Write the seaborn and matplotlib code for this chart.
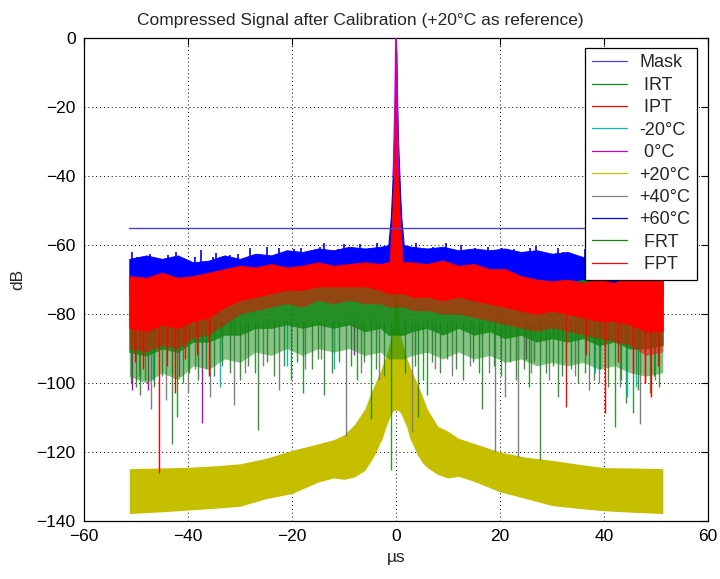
import matplotlib
matplotlib.use("Agg")
import matplotlib.pyplot as plt
from matplotlib.lines import Line2D
import seaborn as sns
import pandas as pd

sns.set_style("white")
plt.rcParams['font.family'] = ['Liberation Sans', 'DejaVu Sans']

# ---------------- data ----------------
# time grid (us) for the envelopes of the dense noise floors
t_grid = [-51.3, -48, -45, -42, -39, -36, -33, -30, -27, -24, -21, -18, -15, -12, -9, -6, -3, -1.5,
          1.5, 3, 6, 9, 12, 15, 18, 21, 24, 27, 30, 33, 36, 39, 42, 45, 48, 51.3]

# +60C (blue) band
blue_top = [-64, -63, -64, -63, -65, -64.5, -63, -64, -62.5, -63, -61.5, -62, -61, -61.5, -60.5, -61, -60.5, -60,
            -60, -60.5, -61, -60.5, -61.5, -61, -61.5, -61, -62, -61.5, -62.5, -62, -63.5, -62.5, -64, -63, -64.5, -64]
blue_low = [-75, -75, -74, -75, -74, -73, -72, -71, -71, -71, -70, -70, -70, -70, -70, -70, -70, -70,
            -70, -70, -70, -70, -71, -71, -72, -72, -73, -73, -74, -74, -74, -75, -75, -75, -75, -75]

# FPT (red) band
red_top = [-69, -69.5, -68, -69.5, -69, -68, -67, -66, -66.5, -65.5, -66.5, -66, -65, -66, -65.5, -65, -65.5, -65,
           -65, -65, -65.5, -64.5, -66, -65.5, -67, -67, -69, -70, -70.5, -70, -71, -70, -71, -69, -70, -68]
red_low = [-84, -85, -83, -84, -82, -81, -78, -76, -75, -74, -73, -73, -72, -72, -72, -72, -73, -74,
           -74, -75, -75, -76, -75, -76, -77, -78, -79, -80, -79, -80, -81, -82, -82, -83, -85, -85]
# looser red fringe below the solid part
red_floor = [-90, -91, -89, -90, -87, -86, -83, -80, -79, -78, -77, -78, -76, -77, -76, -77, -77, -78,
             -78, -79, -79, -80, -80, -81, -82, -83, -84, -85, -84, -85, -86, -87, -88, -89, -92, -91]

# IRT / FRT (green) floor: solid part and looser fringe
green_top = [-71, -72, -71, -72, -71, -72, -72, -70, -70, -69, -70, -70, -69, -70, -69, -70, -69, -68,
             -68, -69, -70, -69, -70, -70, -69, -70, -71, -70, -71, -71, -70, -71, -71, -70, -71, -70]
green_low = [-91, -92, -90, -91, -88, -88, -86, -86, -84, -84, -83, -84, -83, -84, -83, -85, -84, -86,
             -86, -85, -84, -86, -84, -86, -85, -87, -86, -88, -87, -88, -87, -89, -88, -90, -90, -89]
green_floor = [-98, -100, -97, -99, -95, -96, -93, -94, -91, -92, -90, -92, -90, -91, -90, -92, -91, -93,
               -93, -92, -91, -93, -91, -93, -92, -94, -93, -95, -94, -95, -94, -96, -95, -97, -98, -97]

# +20C (yellow) reference: upper / lower envelope
yel_t = [-51.3, -45, -40, -35, -30, -25, -20, -15, -12, -10, -8, -6, -5, -4, -3, -2.75, -2, -1, -0.5, 0,
         0.5, 1, 2, 2.75, 3, 4, 5, 6, 8, 10, 12, 15, 20, 25, 30, 35, 40, 45, 51.3]
yel_up = [-124.8, -124.6, -124.4, -124, -123.4, -121.8, -119.5, -117.6, -116.4, -115, -112, -107.5, -103.5,
          -100, -96.5, -95.5, -92.5, -87, -82, 0,
          -82, -87, -92.5, -95.5, -96.5, -100, -103.5, -107.5, -112.5, -114, -116, -117.5, -120, -121.5,
          -122.4, -123.5, -124.5, -124.6, -124.8]
yel_low = [-137.8, -137.3, -136.8, -136.3, -135.7, -133.5, -132, -128.7, -127.5, -127.9, -127.2, -125.3,
           -123, -120.5, -117, -116.5, -113, -109, -108, -107.8,
           -108, -109, -112.5, -116.5, -117, -120.5, -123, -124.5, -126.5, -127.5, -127, -128.5, -131.5,
           -133.5, -135.5, -136.3, -137, -137.4, -137.8]

# main lobe (common peak) of the compressed pulses
pk_blue_t = [-1.6, -1.0, -0.75, -0.55, -0.35, -0.15, 0.0, 0.15, 0.35, 0.55, 0.75, 1.0, 1.6]
pk_blue_db = [-62, -52, -44, -36, -28, -14, -2, -14, -28, -36, -44, -52, -62]
pk_red_t = [-1.2, -0.8, -0.5, -0.3, -0.15, -0.05, 0.0, 0.05, 0.15, 0.3, 0.5, 0.8, 1.2]
pk_red_db = [-64, -54, -44, -34, -22, -6, -1, -6, -22, -34, -44, -54, -64]
pk_mag_t = [-0.5, -0.2, 0.0, 0.2, 0.5]
pk_mag_db = [-40, -20, 0, -20, -40]

# mask level
mask_t = [-51.3, 51.3]
mask_db = [-55, -55]

# upward bursts of the +60C trace (us, dB)
blue_px = [-50.8, -49.9, -47.3, -46.6, -43.9, -42.4, -41.8, -38.7, -37.5, -35.2, -34.6, -31.9, -30.4, -28.1,
           -27.6, -24.9, -23.1, -22.5, -19.7, -18.2, -17.4, -14.6, -13.9, -11.2, -10.1, -8.8, -6.9, -5.1, -3.6,
           2.5, 3.9, 6.4, 7.1, 9.6, 11.8, 12.5, 15.2, 16.9, 17.6, 20.4, 22.7, 23.3, 25.8, 27.0, 29.6, 31.2,
           32.1, 34.8, 36.3, 37.1, 39.9, 41.0, 43.6, 44.2, 46.8, 47.5, 49.3, 50.6]
blue_pdb = [-62, -63.5, -62.5, -64, -63, -62, -63.8, -63.5, -61.5, -63.5, -62.2, -63, -62.5, -61, -62.8,
            -60.5, -62.5, -60.8, -61.2, -61, -62.3, -60.5, -59.5, -61.2, -59.8, -61.5, -59.6, -60.8, -59.5,
            -60.6, -59.4, -61.8, -60.6, -59.5, -61.4, -60, -60.8, -62.2, -60.6, -61, -61.2, -62.5, -61, -60.4,
            -62.6, -61, -62, -63.5, -61.2, -62.4, -62.6, -63.8, -62.5, -61.6, -63.8, -62.2, -63, -62.5]

# deep nulls of the noise (us, dB)
green_nx = [-51, -50, -49.2, -48.3, -46.5, -45, -43.1, -42.1, -41, -39.8, -38, -36.5, -35, -33.5, -32, -30,
            -28.4, -27.2, -26.6, -24.8, -23.5, -21.6, -20.2, -19, -17.8, -16.2, -15, -13.9, -12.4, -11,
            -8.6, -7.5, -6.2, -4.9, -3.8, -2.4, -1.0, 1.8, 3.6, 4.3, 5.2, 6.0, 7.0, 8.4, 9.8, 11.5, 12.9,
            14.8, 15.9, 16.6, 18.8, 20.2, 22, 23, 24.6, 25.5, 26.6, 27.6, 28.8, 30.2, 31.1, 32, 33.6, 35,
            36.4, 38, 39.3, 40.8, 42.1, 43.2, 44.3, 45.6, 46.6, 47.8, 48.8, 49.6, 50.6]
green_ndb = [-100, -101, -103.6, -99, -101, -98, -117.6, -109.7, -100, -97, -99, -96, -98, -95, -97, -99,
             -95, -97, -113.6, -94, -98, -95, -99, -94, -103, -96, -93, -103.4, -97, -94,
             -95, -99, -94, -110.4, -96, -98, -125.2, -97, -95, -109.7, -99, -103.4, -94, -97, -93, -96, -99,
             -94, -97, -107.5, -95, -98, -94, -99, -96, -101, -94, -122.4, -97, -95, -103.9, -98, -96, -100,
             -97, -99, -96, -101, -112.6, -99, -105.8, -108.7, -102, -100, -103, -98, -101]
gray_nx = [-49.5, -47.2, -44.3, -43, -40.1, -38.6, -35.7, -31.2, -29, -25.5, -22.6, -17.5, -14.5, -9.6,
           -6.8, -3.2, 3.1, 7.5, 10.8, 14.2, 17.8, 19.0, 21.0, 23.5, 26, 29.5, 34.5, 37.2, 39, 43, 47.0, 49.8]
gray_ndb = [-98, -107.5, -104.9, -97, -102.9, -96, -103.9, -106.4, -97, -95, -102, -96, -93, -115.4,
            -97, -99, -114.3, -96, -98, -95, -97, -120, -103.9, -121.5, -97, -99, -98, -102, -100, -101, -112, -99]
red_nx = [-50.2, -48.6, -45.5, -44.0, -42.5, -40.6, -38.2, -36, 32.7, 36.5, 40.1, 42.6, 45.5, 47.8, 49.0, 50.4]
red_ndb = [-94, -96, -126.1, -95, -103, -93, -92, -98, -106.8, -92, -108.7, -94, -97, -100, -104, -95]
cyan_nx = [-46.8, -33.8, -21, -12, 38.2, 44.5, 46.2]
cyan_ndb = [-99, -101, -95, -96, -97, -104, -101]
mag_nx = [-50.7, -47.7, -41.8, -37.3, -8, 25]
mag_ndb = [-102, -102, -98, -111.6, -92, -93]

labels = ["Mask", " IRT", " IPT", "-20°C", " 0°C", "+20°C", "+40°C", "+60°C", " FRT", " FPT"]

# ---------------- colours ----------------
c_mask = "#4646d2"
c_green = "#128612"
c_red = "#ff0000"
c_cyan = "#00c0c0"
c_mag = "#c000c0"
c_yel = "#c6bf00"
c_gray = "#808080"
c_blue = "#0000ff"

fig = plt.figure(figsize=(7.2, 5.79), dpi=100)
ax = fig.add_axes([0.1167, 0.100, 0.8667, 0.8344])
ax.set_axisbelow(True)

# reference (+20C)
ax.fill_between(yel_t, yel_low, yel_up, color=c_yel, lw=0, zorder=2)

# deep nulls
ax.vlines(gray_nx, gray_ndb, -82, color=c_gray, lw=1.0, zorder=3)
ax.vlines(green_nx, green_ndb, -82, color=c_green, lw=1.0, alpha=0.85, zorder=3)
ax.vlines(mag_nx, mag_ndb, -82, color=c_mag, lw=1.0, zorder=3)
ax.vlines(cyan_nx, cyan_ndb, -82, color=c_cyan, lw=1.0, zorder=3)

# +60C floor with its upward bursts
ax.vlines(blue_px, -66, blue_pdb, color=c_blue, lw=1.2, zorder=4)
ax.fill_between(t_grid, blue_low, blue_top, color=c_blue, lw=0.6, zorder=4)

# green floors
ax.fill_between(t_grid, green_floor, green_low, color=c_green, lw=0, alpha=0.5, zorder=5)
ax.fill_between(t_grid, green_low, green_top, color=c_green, lw=0.6, alpha=0.92, zorder=5)

# FPT floor
ax.vlines(red_nx, red_ndb, -80, color=c_red, lw=1.0, zorder=6)
ax.fill_between(t_grid, red_floor, red_low, color=c_red, lw=0, alpha=0.5, zorder=6)
ax.fill_between(t_grid, red_low, red_top, color=c_red, lw=0.6, zorder=6)

# main lobe
ax.fill_between(pk_blue_t, -64, pk_blue_db, color=c_blue, lw=0.8, zorder=7)
ax.fill_between(pk_red_t, -66, pk_red_db, color=c_red, lw=0.8, zorder=8)
sns.lineplot(x=pk_mag_t, y=pk_mag_db, color=c_mag, lw=1.2, ax=ax, zorder=9)

# mask
sns.lineplot(x=mask_t, y=mask_db, color=c_mask, lw=1.0, ax=ax, zorder=9)

ax.set_xlim(-60, 60)
ax.set_ylim(-140, 0)
ax.set_xticks(range(-60, 61, 20))
ax.set_yticks(range(-140, 1, 20))
ax.grid(True, color="black", linestyle=(0, (1, 3)), lw=0.7)
ax.tick_params(direction="in", length=5, top=True, right=True, labelsize=12.5, pad=6, colors="black")
for s in ax.spines.values():
    s.set_color("black")
    s.set_linewidth(0.9)

ax.set_title("Compressed Signal after Calibration (+20°C as reference)", fontsize=12.5, pad=9, x=0.442)
ax.set_xlabel("µs", fontsize=12.5, labelpad=4)
ax.set_ylabel("dB", fontsize=12.5, labelpad=8)

handle_colors = [c_mask, c_green, c_red, c_cyan, c_mag, c_yel, c_gray, c_blue, c_green, c_red]
handles = [Line2D([0], [0], color=c, lw=0.9) for c in handle_colors]
leg = ax.legend(handles, labels, loc="upper right", bbox_to_anchor=(0.982, 0.979), borderaxespad=0,
                fontsize=13, frameon=True, fancybox=False, framealpha=1, edgecolor="black",
                handlelength=1.95, handletextpad=0.7, labelspacing=0.3, borderpad=0.35)
leg.get_frame().set_linewidth(0.9)
leg.set_zorder(20)

fig.savefig("out.png", dpi=100)
